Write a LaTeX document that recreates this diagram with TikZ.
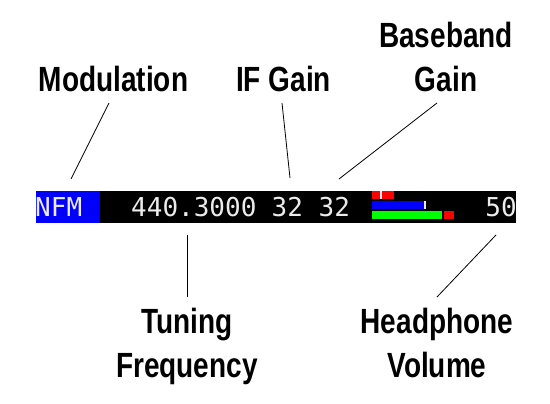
\documentclass[tikz,border=0pt]{standalone}
\usepackage{fontspec}
\newfontfamily\lblfont{Liberation Sans}[FakeStretch=0.8]
\newfontfamily\lcdfont{DejaVu Sans Mono}
\definecolor{lcdblue}{RGB}{0,0,255}
\definecolor{lcdtext}{RGB}{235,235,235}
\definecolor{lcdred}{RGB}{255,0,0}
\definecolor{lcdgreen}{RGB}{0,255,0}
\begin{document}
\begin{tikzpicture}[x=1pt,y=-1pt,
  lbl/.style={font=\lblfont\bfseries\fontsize{35}{44}\selectfont, align=center, inner sep=0pt, anchor=base},
  lcd/.style={font=\lcdfont\fontsize{26}{26}\selectfont, text=lcdtext, inner sep=0pt, anchor=base west},
  lead/.style={line width=0.8pt, black}]
\useasboundingbox (0,0) rectangle (550,404);
\fill[white] (0,0) rectangle (550,404);
% display
\node[fill=black, minimum width=480pt, minimum height=31.5pt, inner sep=0pt, anchor=north west] (bar) at (36,191) {};
\node[fill=lcdblue, minimum width=64pt, minimum height=31.5pt, inner sep=0pt, anchor=north west] (modbox) at (36,191) {};
\node[lcd] (mod) at (35,216) {NFM};
\node[lcd] (freq) at (131,216) {440.3000};
\node[lcd] (ifg) at (271.5,216) {32};
\node[lcd] (bbg) at (318.5,216) {32};
\node[lcd, anchor=base east] (vol) at (517,216) {50};
% meters
\fill[lcdred] (371.7,191) rectangle (394,199);
\fill[lcdtext] (380.3,191) rectangle (382,199);
\fill[lcdblue] (371.7,201) rectangle (423.7,209);
\fill[lcdtext] (424,201) rectangle (426,209);
\fill[lcdgreen] (371.7,211) rectangle (441.7,219);
\fill[lcdred] (443.7,211) rectangle (454,219);
% labels
\node[lbl] (lmod) at (113.5,92) {Modulation};
\node[lbl] (lif) at (283.5,92) {IF Gain};
\node[lbl] (lbb) at (446,92) {Baseband\\Gain};
\node[lbl] (ltun) at (187,377) {Tuning\\Frequency};
\node[lbl] (lhp) at (437,377) {Headphone\\Volume};
% leader ends
\coordinate (cmodA) at (109,103);  \coordinate (cmodB) at (71,179);
\coordinate (cifA) at (282,103);   \coordinate (cifB) at (290,178);
\coordinate (cbbA) at (437,103);   \coordinate (cbbB) at (339,179);
\coordinate (ctunA) at (187,235);  \coordinate (ctunB) at (187,297);
\coordinate (chpA) at (496,235);   \coordinate (chpB) at (437,297);
\draw[lead] (cmodA) -- (cmodB);
\draw[lead] (cifA) -- (cifB);
\draw[lead] (cbbA) -- (cbbB);
\draw[lead] (ctunA) -- (ctunB);
\draw[lead] (chpA) -- (chpB);
\end{tikzpicture}
\end{document}
